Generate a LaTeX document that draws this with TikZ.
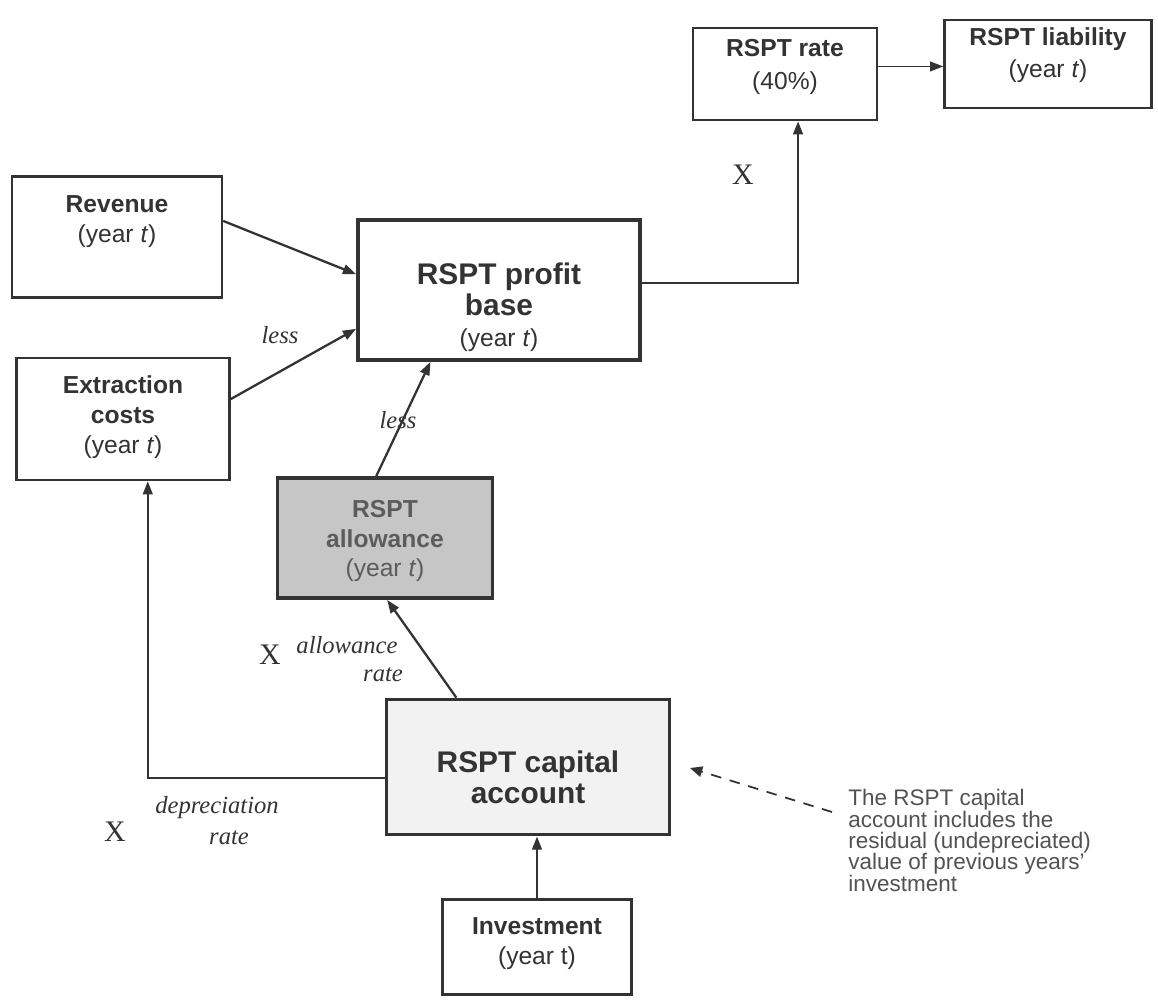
\documentclass[tikz,border=0pt]{standalone}
\usepackage{fontspec}
\setmainfont{Liberation Serif}
\setsansfont{Liberation Sans}
\usetikzlibrary{arrows.meta,calc}
\definecolor{ink}{HTML}{333333}
\tikzset{
  box/.style={draw=ink, line width=1.4pt, rectangle, inner sep=0pt},
  heavybox/.style={box, line width=2.2pt},
  txt/.style={font=\sffamily\fontsize{14}{17}\selectfont, text=ink, align=center, inner sep=0pt},
  bigtxt/.style={font=\sffamily\fontsize{17}{17.5}\selectfont, text=ink, align=center, inner sep=0pt},
  conn/.style={draw=ink, line width=1.3pt, -{Triangle[length=7.5pt,width=5.5pt]}},
  lbl/.style={font=\fontsize{14}{16}\selectfont\itshape, text=ink, inner sep=0pt, align=center},
  xlbl/.style={font=\fontsize{17}{17}\selectfont, text=ink, inner sep=0pt},
  note/.style={font=\sffamily\fontsize{12.8}{12.2}\selectfont, text=ink!85, align=left, inner sep=0pt, anchor=north west},
}
\begin{document}
\begin{tikzpicture}[x=0.02cm, y=-0.02cm]
\useasboundingbox (0,0) rectangle (1158,1000);
% boxes
\node[box, minimum width=3.68cm, minimum height=1.84cm] (rate) at (785,74) {};
\node[txt, font=\sffamily\fontsize{14}{18.5}\selectfont] (rateT) at (785,67) {\textbf{RSPT rate}\\(40\%)};
\node[box, minimum width=4.14cm, minimum height=1.76cm] (liab) at (1048,64) {};
\node[txt, font=\sffamily\fontsize{14}{18.5}\selectfont] (liabT) at (1048,55) {\textbf{RSPT liability}\\(year \textit{t})};
\node[box, minimum width=4.2cm, minimum height=2.42cm] (rev) at (117,237) {};
\node[txt] (revT) at (117,222) {\textbf{Revenue}\\(year \textit{t})};
\node[box, minimum width=4.26cm, minimum height=2.44cm] (ext) at (123,419) {};
\node[txt] (extT) at (123,417) {\textbf{Extraction}\\\textbf{costs}\\(year \textit{t})};
\node[heavybox, minimum width=5.64cm, minimum height=2.8cm] (pb) at (499,290) {};
\node[bigtxt] (pbT) at (499,307) {\textbf{RSPT profit}\\\textbf{base}\\{\fontsize{14}{17}\selectfont(year \textit{t})}};
\node[heavybox, fill=gray!45, minimum width=4.3cm, minimum height=2.4cm] (allow) at (385,538) {};
\node[txt, text=ink!80] (allowT) at (385,541) {\textbf{RSPT}\\\textbf{allowance}\\(year \textit{t})};
\node[heavybox, fill=gray!10, minimum width=5.66cm, minimum height=2.7cm] (cap) at (528,767) {};
\node[bigtxt] (capT) at (528,777) {\textbf{RSPT capital}\\\textbf{account}};
\node[box, line width=1.8pt, minimum width=3.78cm, minimum height=1.9cm] (inv) at (537,947) {};
\node[txt] (invT) at (537,944) {\textbf{Investment}\\(year t)};
% connectors
\draw[conn] ($(rev.north east)!0.37!(rev.south east)$) -- ($(pb.north west)!0.39!(pb.south west)$);
\draw[conn] ($(ext.north east)!0.34!(ext.south east)$) -- ($(pb.north west)!0.77!(pb.south west)$);
\draw[conn] ($(allow.north west)!0.46!(allow.north east)$) -- ($(pb.south west)!0.26!(pb.south east)$);
\draw[conn] ($(cap.north west)!0.25!(cap.north east)$) -- ($(allow.south west)!0.51!(allow.south east)$);
\draw[conn] (inv.north) -- (inv.north |- cap.south);
\draw[conn] ($(cap.north west)!0.58!(cap.south west)$) -| ($(ext.south west)!0.615!(ext.south east)$);
\draw[conn] ($(pb.north east)!0.45!(pb.south east)$) -| ($(rate.south west)!0.57!(rate.south east)$);
\coordinate (rateE) at ($(rate.north east)!0.42!(rate.south east)$);
\draw[conn, line width=1pt] (rateE) -- (rateE -| liab.west);
% annotation
\node[note] (noteT) at (848,789) {The RSPT capital\\account includes the\\residual (undepreciated)\\value of previous years'\\investment};
\coordinate (dashStart) at (832,812);
\coordinate (dashEnd) at (690,768);
\draw[draw=ink, line width=1pt, dashed, dash pattern=on 6pt off 5pt, -{Triangle[length=7pt,width=6pt]}] (dashStart) -- (dashEnd);
% labels
\node[lbl] (less1) at (280,335) {less};
\node[lbl] (less2) at (398,420) {less};
\node[xlbl] (x1) at (743,175) {X};
\node[xlbl] (x2) at (270,655) {X};
\node[lbl] (ar1) at (347,645) {allowance};
\node[lbl] (ar2) at (383,675) {rate};
\node[xlbl] (x3) at (115,832) {X};
\node[lbl] (dr1) at (217,808) {depreciation};
\node[lbl] (dr2) at (229,838) {rate};
\end{tikzpicture}
\end{document}
